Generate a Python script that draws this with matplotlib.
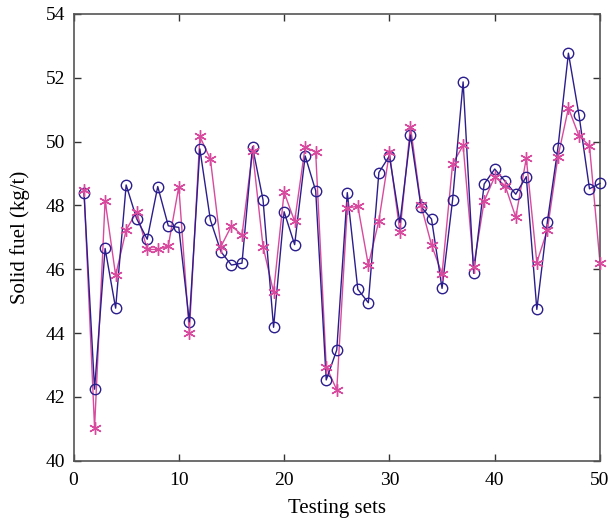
import matplotlib
matplotlib.use("Agg")
import matplotlib.pyplot as plt

testing_sets = list(range(1, 51))
actual = [48.38, 42.24, 46.65, 44.78, 48.64, 47.58, 46.94, 48.59, 47.36, 47.31,
          44.35, 49.77, 47.54, 46.55, 46.13, 46.19, 49.84, 48.17, 44.18, 47.80,
          46.77, 49.55, 48.46, 42.53, 43.47, 48.40, 45.37, 44.95, 49.03, 49.55,
          47.46, 50.21, 47.96, 47.57, 45.40, 48.17, 51.87, 45.87, 48.67, 49.14,
          48.75, 48.35, 48.90, 44.74, 47.49, 49.79, 52.77, 50.84, 48.52, 48.69]
predicted = [48.48, 41.03, 48.15, 45.81, 47.23, 47.80, 46.62, 46.62, 46.73, 48.59,
             44.01, 50.16, 49.45, 46.71, 47.36, 47.07, 49.69, 46.71, 45.28, 48.41,
             47.50, 49.84, 49.66, 42.95, 42.22, 47.91, 47.98, 46.13, 47.52, 49.66,
             47.16, 50.47, 48.01, 46.76, 45.85, 49.30, 49.88, 46.08, 48.13, 48.90,
             48.61, 47.63, 49.48, 46.21, 47.23, 49.51, 51.05, 50.18, 49.87, 46.19]

plt.rcParams['font.family'] = ['Liberation Serif', 'DejaVu Serif']

fig = plt.figure(figsize=(6.11, 5.25), dpi=100)
ax = fig.add_axes([0.1203, 0.1225, 0.8617, 0.851])

blue = '#2b1e8c'
pink = '#d84a9e'
ax.plot(testing_sets, actual, color=blue, lw=1.0, marker='o', ms=7.5,
        mfc='none', mec=blue, mew=1.0, zorder=3, clip_on=False)
ax.plot(testing_sets, predicted, color=pink, lw=1.0, zorder=2, clip_on=False)
ax.plot(testing_sets, predicted, linestyle='none', marker=(6, 2, 0), ms=9,
        mec=pink, mew=1.0, zorder=4, clip_on=False)

ax.set_xlim(0, 50)
ax.set_ylim(40, 54)
ax.set_xticks([0, 10, 20, 30, 40, 50])
ax.set_yticks([40, 42, 44, 46, 48, 50, 52, 54])
ax.tick_params(direction='in', top=True, right=True, labelsize=14,
               length=5, width=1.0, color='#333333')
ax.tick_params(axis='x', pad=8)
ax.tick_params(axis='y', pad=6)
for s in ax.spines.values():
    s.set_color('#555555')
    s.set_linewidth(1.2)
ax.set_xlabel('Testing sets', fontsize=15, labelpad=7)
ax.set_ylabel('Solid fuel (kg/t)', fontsize=15, labelpad=11)

fig.savefig('out.png', dpi=100)
